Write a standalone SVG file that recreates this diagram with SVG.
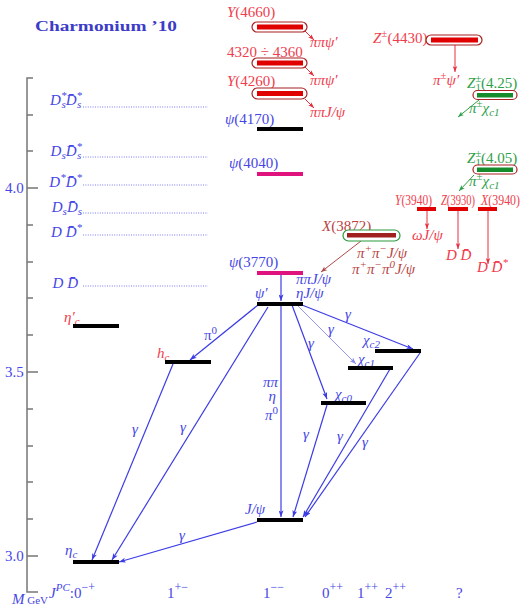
<svg xmlns="http://www.w3.org/2000/svg" width="528" height="607" viewBox="0 0 528 607">
<style>
text{font-family:"Liberation Serif","DejaVu Serif",serif;font-size:15px}
.b{fill:#4646e6}
.r{fill:#f03c4c}
.g{fill:#2ea04a}
.dr{fill:#b84444}
.i{font-style:italic}
.s{font-size:11px}
.bar{stroke:#000;stroke-width:4}
.mag{stroke:#e0127e;stroke-width:4}
.conn{stroke:#3c3ce6;stroke-width:1.2;fill:none}
.lc{stroke:#8a8af0;stroke-width:0.9;fill:none}
.rc{stroke:#e63040;stroke-width:1;fill:none}
.gc{stroke:#2ea04a;stroke-width:1;fill:none}
.dc{stroke:#b04848;stroke-width:1;fill:none}
.thr{stroke:#5a5aee;stroke-width:0.8;stroke-dasharray:1 1.4}
.box{fill:#fff;stroke:#a82020;stroke-width:1.2}
.ax{stroke:#777;stroke-width:1.5;fill:none}
</style>
<defs>
<marker id="ab" viewBox="0 0 8 6" refX="8" refY="3" markerWidth="7" markerHeight="5" markerUnits="userSpaceOnUse" orient="auto"><path d="M0,0 L8,3 L0,6 L2,3 z" fill="#3c3ce6"/></marker>
<marker id="al" viewBox="0 0 8 6" refX="8" refY="3" markerWidth="7" markerHeight="5" markerUnits="userSpaceOnUse" orient="auto"><path d="M0,0 L8,3 L0,6 L2,3 z" fill="#8a8af0"/></marker>
<marker id="ar" viewBox="0 0 8 6" refX="8" refY="3" markerWidth="6" markerHeight="5" markerUnits="userSpaceOnUse" orient="auto"><path d="M0,0 L8,3 L0,6 L2,3 z" fill="#e63040"/></marker>
<marker id="ag" viewBox="0 0 8 6" refX="8" refY="3" markerWidth="6" markerHeight="5" markerUnits="userSpaceOnUse" orient="auto"><path d="M0,0 L8,3 L0,6 L2,3 z" fill="#2ea04a"/></marker>
<marker id="ad" viewBox="0 0 8 6" refX="8" refY="3" markerWidth="6" markerHeight="5" markerUnits="userSpaceOnUse" orient="auto"><path d="M0,0 L8,3 L0,6 L2,3 z" fill="#b04848"/></marker>
</defs>

<text x="35" y="31" font-weight="bold" font-size="18" textLength="142" lengthAdjust="spacingAndGlyphs" fill="#3c3cc8">Charmonium ’10</text>

<g id="axis">
<path class="ax" d="M33,78 H27 V592 H38"/>
<path class="ax" d="M27,115 H33 M27,151 H33 M27,188 H38 M27,225 H33 M27,262 H33 M27,298 H33 M27,335 H33 M27,372 H38 M27,409 H33 M27,446 H33 M27,482 H33 M27,519 H33 M27,556 H38"/>
<text class="b" x="5" y="193" font-size="13">4.0</text>
<text class="b" x="5" y="377" font-size="13">3.5</text>
<text class="b" x="5" y="561" font-size="13">3.0</text>
</g>

<g id="thresholds">
<line class="thr" x1="83" y1="107" x2="208" y2="107"/>
<line class="thr" x1="83" y1="157" x2="208" y2="157"/>
<line class="thr" x1="83" y1="185" x2="208" y2="185"/>
<line class="thr" x1="83" y1="213" x2="208" y2="213"/>
<line class="thr" x1="83" y1="235" x2="208" y2="235"/>
<line class="thr" x1="83" y1="286" x2="208" y2="286"/>
<text class="b i" x="82" y="105" text-anchor="end">D<tspan class="s" dy="-6">*</tspan><tspan class="s" dx="-5" dy="9">s</tspan><tspan dy="-3">D̄</tspan><tspan class="s" dy="-6">*</tspan><tspan class="s" dx="-5" dy="9">s</tspan></text>
<text class="b i" x="82" y="156" text-anchor="end">D<tspan class="s" dy="3">s</tspan><tspan dy="-3">D̄</tspan><tspan class="s" dy="-6">*</tspan><tspan class="s" dx="-5" dy="9">s</tspan></text>
<text class="b i" x="82" y="187" text-anchor="end">D<tspan class="s" dy="-6">*</tspan><tspan dy="6">D̄</tspan><tspan class="s" dy="-6">*</tspan></text>
<text class="b i" x="82" y="212" text-anchor="end">D<tspan class="s" dy="3">s</tspan><tspan dy="-3">D̄</tspan><tspan class="s" dy="3">s</tspan></text>
<text class="b i" x="82" y="237" text-anchor="end">D D̄<tspan class="s" dy="-6">*</tspan></text>
<text class="b i" x="78" y="288" text-anchor="end">D D̄</text>
</g>

<g id="connectors">
<line class="rc" x1="305" y1="31" x2="314" y2="40" marker-end="url(#ar)"/>
<line class="rc" x1="305" y1="67" x2="314" y2="76" marker-end="url(#ar)"/>
<line class="rc" x1="305" y1="99" x2="314" y2="108" marker-end="url(#ar)"/>
<line class="rc" x1="455" y1="45" x2="455" y2="72" marker-end="url(#ar)"/>
<line class="gc" x1="479" y1="100" x2="458" y2="117" marker-end="url(#ag)"/>
<line class="gc" x1="474" y1="175" x2="459" y2="191" marker-end="url(#ag)"/>
<line class="rc" x1="427" y1="211" x2="427" y2="229" marker-end="url(#ar)"/>
<line class="rc" x1="458" y1="211" x2="458" y2="249" marker-end="url(#ar)"/>
<line class="rc" x1="488" y1="211" x2="488" y2="264" marker-end="url(#ar)"/>
<line class="dc" x1="361" y1="241" x2="321" y2="272" marker-end="url(#ad)"/>
<line class="conn" x1="281" y1="275" x2="281" y2="301" marker-end="url(#ab)"/>
<line class="conn" x1="281" y1="305" x2="281" y2="517" marker-end="url(#ab)"/>
<line class="conn" x1="258" y1="305" x2="190" y2="360" marker-end="url(#ab)"/>
<line class="conn" x1="268" y1="307" x2="112" y2="560" marker-end="url(#ab)"/>
<line class="conn" x1="173" y1="364" x2="92" y2="560" marker-end="url(#ab)"/>
<line class="conn" x1="257" y1="522" x2="119" y2="562" marker-end="url(#ab)"/>
<line class="conn" x1="292" y1="305" x2="327" y2="399" marker-end="url(#ab)"/>
<line class="lc" x1="297" y1="305" x2="356" y2="364" marker-end="url(#al)"/>
<line class="conn" x1="302" y1="305" x2="413" y2="349" marker-end="url(#ab)"/>
<line class="conn" x1="327" y1="405" x2="293" y2="517" marker-end="url(#ab)"/>
<line class="conn" x1="390" y1="369" x2="303" y2="517" marker-end="url(#ab)"/>
<line class="conn" x1="420" y1="353" x2="305" y2="517" marker-end="url(#ab)"/>
<text class="b" x="204" y="340">π<tspan class="s" dy="-6">0</tspan></text>
<text class="b i" x="132" y="434">γ</text>
<text class="b i" x="180" y="432">γ</text>
<text class="b i" x="179" y="540">γ</text>
<text class="b i" x="308" y="348">γ</text>
<text class="b i" x="328" y="334">γ</text>
<text class="b i" x="345" y="319">γ</text>
<text class="b i" x="303" y="439">γ</text>
<text class="b i" x="337" y="441">γ</text>
<text class="b i" x="362" y="447">γ</text>
<text class="b i" x="278" y="387" text-anchor="end">ππ</text>
<text class="b i" x="276" y="401" text-anchor="end">η</text>
<text class="b i" x="278" y="420" text-anchor="end">π<tspan class="s" dy="-6" font-style="normal">0</tspan></text>
<text class="b i" x="296" y="284">ππJ/ψ</text>
<text class="b i" x="296" y="298">ηJ/ψ</text>
<text class="r i" x="310" y="47">ππψ′</text>
<text class="r i" x="310" y="85">ππψ′</text>
<text class="r i" x="310" y="117">ππJ/ψ</text>
<text class="r i" x="433" y="85">π<tspan class="s" dy="-6" font-style="normal">±</tspan><tspan dy="6">ψ′</tspan></text>
<text class="g i" x="469" y="113">π<tspan class="s" dy="-6" font-style="normal">±</tspan><tspan dy="6">χ</tspan><tspan class="s" dy="3">c1</tspan></text>
<text class="g i" x="469" y="186">π<tspan class="s" dy="-6" font-style="normal">±</tspan><tspan dy="6">χ</tspan><tspan class="s" dy="3">c1</tspan></text>
<text class="r i" x="412" y="240">ωJ/ψ</text>
<text class="r i" x="446" y="260">D D̄</text>
<text class="r i" x="477" y="272">D D̄<tspan class="s" dy="-6">*</tspan></text>
<text class="dr i" x="357" y="258">π<tspan class="s" dy="-6">+</tspan><tspan dy="6">π</tspan><tspan class="s" dy="-6">−</tspan><tspan dy="6">J/ψ</tspan></text>
<text class="dr i" x="352" y="274">π<tspan class="s" dy="-6">+</tspan><tspan dy="6">π</tspan><tspan class="s" dy="-6">−</tspan><tspan dy="6">π</tspan><tspan class="s" dy="-6">0</tspan><tspan dy="6">J/ψ</tspan></text>
</g>

<g id="Y4660">
<text class="r" x="227" y="17" font-size="16"><tspan class="i">Y</tspan>(4660)</text>
<rect class="box" x="252" y="22" width="55" height="10" rx="5"/>
<rect x="257" y="24.5" width="46" height="5" fill="#e00000"/>
</g>
<g id="Y4320">
<text class="r" x="227" y="57">4320 ÷ 4360</text>
<rect class="box" x="252" y="58" width="55" height="10" rx="5"/>
<rect x="257" y="60.5" width="46" height="5" fill="#e00000"/>
</g>
<g id="Y4260">
<text class="r" x="227" y="86" font-size="16"><tspan class="i">Y</tspan>(4260)</text>
<rect class="box" x="252" y="88" width="55" height="11" rx="5.5"/>
<rect x="257" y="91" width="46" height="5" fill="#e00000"/>
</g>
<g id="psi4170">
<text class="b" x="225" y="124"><tspan class="i">ψ</tspan>(4170)</text>
<line class="bar" x1="257" y1="129" x2="303" y2="129"/>
</g>
<g id="psi4040">
<text class="b" x="229" y="168"><tspan class="i">ψ</tspan>(4040)</text>
<line class="mag" x1="257" y1="174" x2="303" y2="174"/>
</g>
<g id="psi3770">
<text class="b" x="229" y="267"><tspan class="i">ψ</tspan>(3770)</text>
<line class="mag" x1="257" y1="273" x2="303" y2="273"/>
</g>
<g id="Z4430">
<text class="r" x="373" y="43"><tspan class="i">Z</tspan><tspan class="s" dy="-6">±</tspan><tspan dy="6">(4430)</tspan></text>
<rect class="box" x="426" y="35" width="56" height="10" rx="5"/>
<rect x="431" y="37.5" width="47" height="5" fill="#e00000"/>
</g>
<g id="Z425">
<text class="g" x="467" y="88"><tspan class="i">Z</tspan><tspan class="s" dy="-6">±</tspan><tspan class="s" dx="-6" dy="9">1</tspan><tspan dy="-3">(4.25)</tspan></text>
<rect class="box" x="473" y="90.5" width="44" height="9" rx="4.5"/>
<rect x="477" y="93" width="36" height="4.5" fill="#148c2c"/>
</g>
<g id="Z405">
<text class="g" x="467" y="163"><tspan class="i">Z</tspan><tspan class="s" dy="-6">±</tspan><tspan class="s" dx="-6" dy="9">1</tspan><tspan dy="-3">(4.05)</tspan></text>
<rect class="box" x="473" y="165" width="44" height="9" rx="4.5"/>
<rect x="477" y="167.5" width="36" height="4.5" fill="#148c2c"/>
</g>
<g id="Y3940">
<text class="r" x="395" y="205" font-size="13" textLength="37" lengthAdjust="spacingAndGlyphs"><tspan class="i">Y</tspan>(3940)</text>
<rect x="417" y="207" width="19" height="4" fill="#e00000"/>
</g>
<g id="Z3930">
<text class="r" x="441" y="205" font-size="13" textLength="34" lengthAdjust="spacingAndGlyphs"><tspan class="i">Z</tspan>(3930)</text>
<rect x="448" y="207" width="20" height="4" fill="#e00000"/>
</g>
<g id="X3940">
<text class="r" x="481" y="205" font-size="13" textLength="39" lengthAdjust="spacingAndGlyphs"><tspan class="i">X</tspan>(3940)</text>
<rect x="478" y="207" width="19" height="4" fill="#e00000"/>
</g>
<g id="X3872">
<text class="dr" x="322" y="231"><tspan class="i">X</tspan>(3872)</text>
<rect x="343" y="230" width="57" height="11" rx="5.5" fill="#fff" stroke="#2a9a3a" stroke-width="1.2"/>
<rect x="347" y="233" width="49" height="4.5" fill="#a02020"/>
</g>
<g id="psi2S">
<text class="b i" x="255" y="298">ψ′</text>
<line class="bar" x1="257" y1="304" x2="303" y2="304"/>
</g>
<g id="Jpsi">
<text class="b i" x="245" y="514">J/ψ</text>
<line class="bar" x1="257" y1="520" x2="303" y2="520"/>
</g>
<g id="etac">
<text class="b i" x="65" y="555">η<tspan class="s" dy="3">c</tspan></text>
<line class="bar" x1="73" y1="562" x2="119" y2="562"/>
</g>
<g id="etac2S">
<text class="r i" x="64" y="322">η′<tspan class="s" dy="3">c</tspan></text>
<line class="bar" x1="73" y1="326" x2="119" y2="326"/>
</g>
<g id="hc">
<text class="r i" x="157" y="358">h<tspan class="s" dy="3">c</tspan></text>
<line class="bar" x1="165" y1="362" x2="211" y2="362"/>
</g>
<g id="chic0">
<text class="b i" x="335" y="399">χ<tspan class="s" dy="3">c0</tspan></text>
<line class="bar" x1="321" y1="403" x2="366" y2="403"/>
</g>
<g id="chic1">
<text class="b i" x="358" y="364">χ<tspan class="s" dy="3">c1</tspan></text>
<line class="bar" x1="348" y1="368" x2="393" y2="368"/>
</g>
<g id="chic2">
<text class="b i" x="363" y="345">χ<tspan class="s" dy="3">c2</tspan></text>
<line class="bar" x1="375" y1="351" x2="421" y2="351"/>
</g>

<g id="jpc">
<text class="b" x="12" y="604"><tspan class="i">M</tspan><tspan font-size="11"> GeV</tspan></text>
<text class="b" x="49" y="598"><tspan class="i">J</tspan><tspan font-size="11" class="i" dy="-7">PC</tspan><tspan dy="7">:0</tspan><tspan font-size="12" dy="-7">−+</tspan></text>
<text class="b" x="167" y="598">1<tspan font-size="12" dy="-7">+−</tspan></text>
<text class="b" x="263" y="598">1<tspan font-size="12" dy="-7">−−</tspan></text>
<text class="b" x="322" y="598">0<tspan font-size="12" dy="-7">++</tspan></text>
<text class="b" x="357" y="598">1<tspan font-size="12" dy="-7">++</tspan></text>
<text class="b" x="385" y="598">2<tspan font-size="12" dy="-7">++</tspan></text>
<text class="b" x="456" y="598">?</text>
</g>
</svg>
